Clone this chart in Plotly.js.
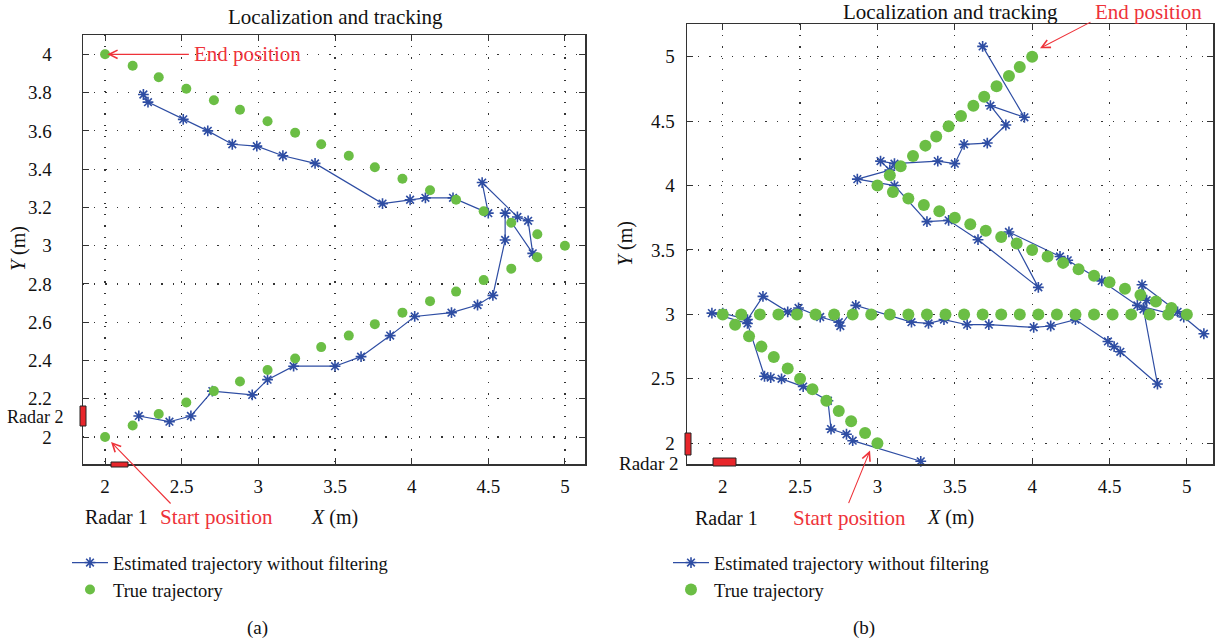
<!DOCTYPE html>
<html>
<head>
<meta charset="utf-8">
<script src="https://cdn.plot.ly/plotly-3.0.1.min.js"></script>
<style>html,body{margin:0;padding:0;background:#fff;}#chart{width:1215px;height:643px;}</style>
</head>
<body>
<div id="chart"></div>
<script>
// ---------- Panel (a) data ----------
const trueAX = [2.00,2.18,2.35,2.53,2.71,2.88,3.06,3.24,3.41,3.59,3.76,3.94,4.12,4.29,4.47,4.65,4.82,5.00,
                4.82,4.65,4.47,4.29,4.12,3.94,3.76,3.59,3.41,3.24,3.06,2.88,2.71,2.53,2.35,2.18,2.00];
const trueAY = [2.00,2.06,2.12,2.18,2.24,2.29,2.35,2.41,2.47,2.53,2.59,2.65,2.71,2.76,2.82,2.88,2.94,3.00,
                3.06,3.12,3.18,3.24,3.29,3.35,3.41,3.47,3.53,3.59,3.65,3.71,3.76,3.82,3.88,3.94,4.00];
const estAX = [2.22,2.42,2.56,2.70,2.96,3.06,3.23,3.50,3.67,3.86,4.02,4.26,4.43,4.53,4.61,4.61,4.79,4.76,4.69,4.46,
               4.50,4.27,4.09,3.99,3.81,3.37,3.16,2.99,2.83,2.67,2.51,2.28,2.25];
const estAY = [2.11,2.08,2.11,2.24,2.22,2.30,2.37,2.37,2.42,2.53,2.63,2.65,2.69,2.74,3.03,3.17,2.96,3.13,3.15,3.33,
               3.17,3.25,3.25,3.24,3.22,3.43,3.47,3.52,3.53,3.60,3.66,3.75,3.79];

// ---------- Panel (b) data ----------
const trueBX = [3.00,2.92,2.83,2.75,2.67,2.58,2.50,2.42,2.33,2.25,2.17,2.08,2.00,
                2.12,2.24,2.36,2.48,2.60,2.72,2.84,2.96,3.08,3.20,3.32,3.44,3.56,3.68,3.80,3.92,4.04,4.16,4.28,4.40,4.52,4.64,4.76,4.88,5.00,
                4.90,4.80,4.70,4.60,4.50,4.40,4.30,4.20,4.10,4.00,3.90,3.80,3.70,3.60,3.50,3.40,3.30,3.20,3.10,3.00,
                3.08,3.15,3.23,3.31,3.38,3.46,3.54,3.62,3.69,3.77,3.85,3.92,4.00];
const trueBY = [2.00,2.08,2.17,2.25,2.33,2.42,2.50,2.58,2.67,2.75,2.83,2.92,3.00,
                3.00,3.00,3.00,3.00,3.00,3.00,3.00,3.00,3.00,3.00,3.00,3.00,3.00,3.00,3.00,3.00,3.00,3.00,3.00,3.00,3.00,3.00,3.00,3.00,3.00,
                3.05,3.10,3.15,3.20,3.25,3.30,3.35,3.40,3.45,3.50,3.55,3.60,3.65,3.70,3.75,3.80,3.85,3.90,3.95,4.00,
                4.08,4.15,4.23,4.31,4.38,4.46,4.54,4.62,4.69,4.77,4.85,4.92,5.00];
const estBX = [3.28,2.84,2.80,2.70,2.68,2.52,2.38,2.31,2.27,2.16,1.93,2.00,2.16,2.26,2.42,2.49,2.63,2.75,2.76,2.86,
               3.22,3.33,3.43,3.58,3.72,4.01,4.12,4.28,4.49,4.53,4.57,4.81,4.72,4.74,4.71,4.94,5.11,4.98,4.68,4.45,
               4.23,4.18,3.85,4.04,3.65,3.46,3.32,3.11,2.87,3.08,3.02,3.11,3.39,3.50,3.56,3.71,3.83,3.73,3.95,3.68];
const estBY = [1.86,2.02,2.07,2.11,2.33,2.44,2.50,2.51,2.52,2.93,3.01,3.01,2.96,3.14,3.02,3.05,2.98,2.94,2.91,3.07,
               2.94,2.93,2.96,2.92,2.92,2.90,2.91,2.96,2.79,2.75,2.71,2.46,3.04,3.11,3.23,3.02,2.85,2.98,3.07,3.26,
               3.42,3.45,3.64,3.21,3.58,3.73,3.72,4.00,4.05,4.12,4.19,4.17,4.19,4.17,4.32,4.33,4.47,4.62,4.53,5.08];

// ---------- ticks ----------
const xTicksA = [2,2.5,3,3.5,4,4.5,5];
const xTickTextA = ['2','2.5','3','3.5','4','4.5','5'];
const yTicksA = [2,2.2,2.4,2.6,2.8,3,3.2,3.4,3.6,3.8,4];
const yTickTextA = ['2','2.2','2.4','2.6','2.8','3','3.2','3.4','3.6','3.8','4'];
const xTicksB = [2,2.5,3,3.5,4,4.5,5];
const xTickTextB = ['2','2.5','3','3.5','4','4.5','5'];
const yTicksB = [2,2.5,3,3.5,4,4.5,5];
const yTickTextB = ['2','2.5','3','3.5','4','4.5','5'];

const estName = 'Estimated trajectory without filtering';
const trueName = 'True trajectory';

// ---------- styling ----------
const W = 1215, H = 643;
const PX = x => x / W;
const PY = y => 1 - y / H;
const BLUE = '#2E4DA3';
const GREEN = '#6BBE45';
const RED = '#EE3239';
const FONT = 'Liberation Serif, Times New Roman, serif';

const estStyle = {
  mode: 'lines+markers',
  line: {color: BLUE, width: 1.2},
  marker: {symbol: 'asterisk-open', size: 9, color: BLUE, line: {color: BLUE, width: 1.6}},
  hoverinfo: 'skip', cliponaxis: false
};

const traces = [
  Object.assign({x: estAX, y: estAY, xaxis: 'x', yaxis: 'y', name: estName, legend: 'legend', legendrank: 1}, estStyle),
  {x: trueAX, y: trueAY, xaxis: 'x', yaxis: 'y', name: trueName, legend: 'legend', legendrank: 2,
   mode: 'markers', marker: {symbol: 'circle', size: 10, color: GREEN}, hoverinfo: 'skip', cliponaxis: false},
  Object.assign({x: estBX, y: estBY, xaxis: 'x2', yaxis: 'y2', name: estName, legend: 'legend2', legendrank: 1}, estStyle),
  {x: trueBX, y: trueBY, xaxis: 'x2', yaxis: 'y2', name: trueName, legend: 'legend2', legendrank: 2,
   mode: 'markers', marker: {symbol: 'circle', size: 12, color: GREEN}, hoverinfo: 'skip', cliponaxis: false}
];

const axCommon = {
  showline: true, linecolor: '#333', linewidth: 1.5, mirror: 'ticks',
  ticks: 'inside', ticklen: 6, tickwidth: 1, tickcolor: '#333',
  showgrid: true, gridcolor: '#333', gridwidth: 1.2, griddash: '1.2px,10px',
  zeroline: false, fixedrange: true,
  tickfont: {family: FONT, size: 19, color: '#111'}
};

const layout = {
  width: W, height: H, autosize: false,
  margin: {l: 0, r: 0, t: 0, b: 0},
  paper_bgcolor: '#fff', plot_bgcolor: '#fff',
  font: {family: FONT, size: 19, color: '#111'},
  showlegend: true,
  xaxis: Object.assign({}, axCommon, {domain: [PX(83), PX(585)], range: [1.856, 5.131], anchor: 'y',
    tickmode: 'array', tickvals: xTicksA, ticktext: xTickTextA, ticklabelstandoff: 5}),
  yaxis: Object.assign({}, axCommon, {domain: [PY(464), PY(35)], range: [1.859, 4.101], anchor: 'x',
    tickmode: 'array', tickvals: yTicksA, ticktext: yTickTextA, ticklabelstandoff: 26}),
  xaxis2: Object.assign({}, axCommon, {domain: [PX(687), PX(1213)], range: [1.769, 5.169], anchor: 'y2',
    tickmode: 'array', tickvals: xTicksB, ticktext: xTickTextB, ticklabelstandoff: 5}),
  yaxis2: Object.assign({}, axCommon, {domain: [PY(464), PY(24)], range: [1.839, 5.254], anchor: 'x2',
    tickmode: 'array', tickvals: yTicksB, ticktext: yTickTextB, ticklabelstandoff: 7}),
  legend: {x: PX(67), y: PY(544), xanchor: 'left', yanchor: 'top', bgcolor: 'rgba(0,0,0,0)',
    font: {family: FONT, size: 18.5, color: '#111'}, itemwidth: 36, traceorder: 'normal', tracegroupgap: 0},
  legend2: {x: PX(668), y: PY(544), xanchor: 'left', yanchor: 'top', bgcolor: 'rgba(0,0,0,0)',
    font: {family: FONT, size: 18.5, color: '#111'}, itemwidth: 36, traceorder: 'normal', tracegroupgap: 0},
  shapes: [
    // radar markers (a)
    {type: 'rect', xref: 'paper', yref: 'paper', x0: PX(80), x1: PX(86), y0: PY(426), y1: PY(406),
     fillcolor: '#E8262B', line: {color: '#222', width: 1}},
    {type: 'rect', xref: 'paper', yref: 'paper', x0: PX(111), x1: PX(128), y0: PY(467), y1: PY(462),
     fillcolor: '#E8262B', line: {color: '#222', width: 1}},
    // radar markers (b)
    {type: 'rect', xref: 'paper', yref: 'paper', x0: PX(685), x1: PX(691), y0: PY(455), y1: PY(433),
     fillcolor: '#E8262B', line: {color: '#222', width: 1}},
    {type: 'rect', xref: 'paper', yref: 'paper', x0: PX(713), x1: PX(736), y0: PY(466), y1: PY(458),
     fillcolor: '#E8262B', line: {color: '#222', width: 1}}
  ],
  annotations: []
};

function txt(text, x, y, opts) {
  return Object.assign({text: text, xref: 'paper', yref: 'paper', x: PX(x), y: PY(y),
    xanchor: 'center', yanchor: 'middle', showarrow: false,
    font: {family: FONT, size: 20, color: '#111'}}, opts || {});
}
function arrow(xref, yref, x, y, ax, ay) {
  return {text: '', xref: xref, yref: yref, x: x, y: y, ax: ax, ay: ay, showarrow: true,
    arrowhead: 5, arrowsize: 1.5, arrowwidth: 1.1, arrowcolor: RED, standoff: 0};
}

layout.annotations.push(
  // panel (a)
  txt('Localization and tracking', 335, 17, {font: {family: FONT, size: 21, color: '#111'}}),
  txt('End position', 192, 54, {xanchor: 'left', font: {family: FONT, size: 21, color: RED}}),
  txt('Start position', 217, 517, {font: {family: FONT, size: 21, color: RED}}),
  txt('Radar 1', 116, 517),
  txt('Radar 2', 35, 417, {font: {family: FONT, size: 18, color: '#111'}, borderpad: 0}),
  txt('<i>X</i> (m)', 334, 517),
  txt('<i>Y</i> (m)', 18, 249, {textangle: -90}),
  txt('(a)', 257, 628, {font: {family: FONT, size: 19, color: '#111'}}),
  arrow('x', 'y', 2.015, 4.0, 83, 0),
  arrow('x', 'y', 2.039, 1.974, 61, 63),
  // panel (b)
  txt('Localization and tracking', 950, 12, {font: {family: FONT, size: 21, color: '#111'}}),
  txt('End position', 1093, 12, {xanchor: 'left', font: {family: FONT, size: 21, color: RED}}),
  txt('Start position', 849, 518, {font: {family: FONT, size: 21, color: RED}}),
  txt('Radar 1', 726, 518),
  txt('Radar 2', 649, 463, {font: {family: FONT, size: 19, color: '#111'}}),
  txt('<i>X</i> (m)', 950, 517),
  txt('<i>Y</i> (m)', 625, 244, {textangle: -90}),
  txt('(b)', 864, 628, {font: {family: FONT, size: 19, color: '#111'}}),
  arrow('x2', 'y2', 4.051, 5.065, 52, -27),
  arrow('x2', 'y2', 2.952, 1.943, -22, 54)
);

Plotly.newPlot('chart', traces, layout, {staticPlot: true, displayModeBar: false});
</script>
</body>
</html>
